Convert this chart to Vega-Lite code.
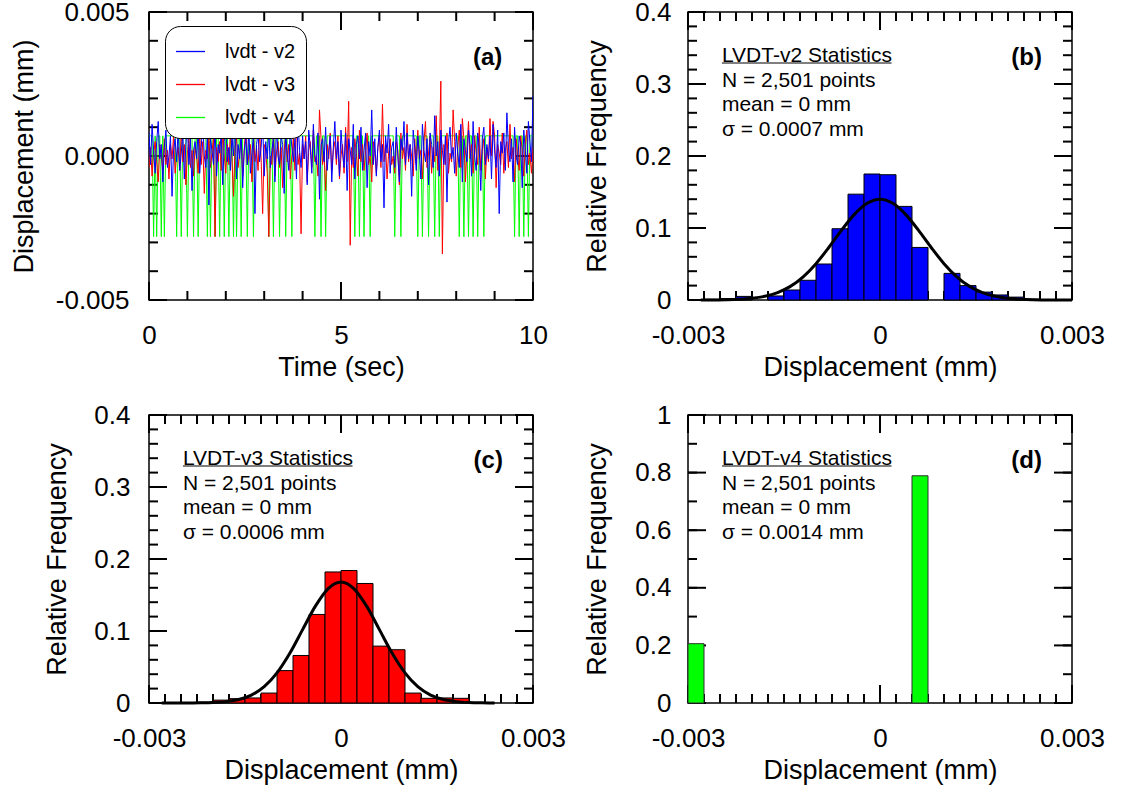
{
"$schema":"https://vega.github.io/schema/vega-lite/v6.json",
"autosize":"none",
"padding":{"left":149,"top":12,"right":973,"bottom":778},
"background":"white",
"config":{
 "font":"Liberation Sans",
 "view":{"stroke":"#000","strokeWidth":1.5},
 "axis":{"grid":false,"domain":false,"labelFont":"Liberation Sans","labelFontSize":26,"labelColor":"#000","titleFont":"Liberation Sans","titleFontSize":27,"titleFontWeight":"normal","titleColor":"#000","labelFlush":false,"labelOverlap":false,"labelBound":false},
 "rule":{"color":"#000","strokeWidth":2},
 "text":{"font":"Liberation Sans","color":"#000"}
},
"datasets":{
"xa":[{"v":0,"m":1},{"v":1,"m":0},{"v":2,"m":0},{"v":3,"m":0},{"v":4,"m":0},{"v":5,"m":1},{"v":6,"m":0},{"v":7,"m":0},{"v":8,"m":0},{"v":9,"m":0},{"v":10,"m":1}],
"ya":[{"v":-0.005,"m":1},{"v":-0.004,"m":0},{"v":-0.003,"m":0},{"v":-0.002,"m":0},{"v":-0.001,"m":0},{"v":0,"m":1},{"v":0.001,"m":0},{"v":0.002,"m":0},{"v":0.003,"m":0},{"v":0.004,"m":0},{"v":0.005,"m":1}],
"xh":[{"v":-0.003,"m":1},{"v":-0.00275,"m":0},{"v":-0.0025,"m":0},{"v":-0.00225,"m":0},{"v":-0.002,"m":0},{"v":-0.00175,"m":0},{"v":-0.0015,"m":0},{"v":-0.00125,"m":0},{"v":-0.001,"m":0},{"v":-0.00075,"m":0},{"v":-0.0005,"m":0},{"v":-0.00025,"m":0},{"v":0,"m":1},{"v":0.00025,"m":0},{"v":0.0005,"m":0},{"v":0.00075,"m":0},{"v":0.001,"m":0},{"v":0.00125,"m":0},{"v":0.0015,"m":0},{"v":0.00175,"m":0},{"v":0.002,"m":0},{"v":0.00225,"m":0},{"v":0.0025,"m":0},{"v":0.00275,"m":0},{"v":0.003,"m":1}],
"yh":[{"v":0,"m":1},{"v":0.02,"m":0},{"v":0.04,"m":0},{"v":0.06,"m":0},{"v":0.08,"m":0},{"v":0.1,"m":1},{"v":0.12,"m":0},{"v":0.14,"m":0},{"v":0.16,"m":0},{"v":0.18,"m":0},{"v":0.2,"m":1},{"v":0.22,"m":0},{"v":0.24,"m":0},{"v":0.26,"m":0},{"v":0.28,"m":0},{"v":0.3,"m":1},{"v":0.32,"m":0},{"v":0.34,"m":0},{"v":0.36,"m":0},{"v":0.38,"m":0},{"v":0.4,"m":1}],
"yd":[{"v":0,"m":1},{"v":0.1,"m":0},{"v":0.2,"m":1},{"v":0.3,"m":0},{"v":0.4,"m":1},{"v":0.5,"m":0},{"v":0.6,"m":1},{"v":0.7,"m":0},{"v":0.8,"m":1},{"v":0.9,"m":0},{"v":1,"m":1}],
"ts":[
{"t":0,"v2":0.0008,"v3":-0.0004,"v4":0.0007},
{"t":0.04,"v2":-0.0003,"v3":0.0003,"v4":0.0007},
{"t":0.08,"v2":0.0011,"v3":-0.0007,"v4":0.0007},
{"t":0.12,"v2":0.0002,"v3":0.0001,"v4":-0.0028},
{"t":0.16,"v2":-0.0006,"v3":0.0005,"v4":0.0007},
{"t":0.2,"v2":0.0005,"v3":-0.0002,"v4":-0.0028},
{"t":0.24,"v2":0.0012,"v3":-0.0009,"v4":0.0007},
{"t":0.28,"v2":-0.0001,"v3":0.0004,"v4":0.0007},
{"t":0.32,"v2":0.0004,"v3":0,"v4":-0.0028},
{"t":0.36,"v2":-0.0009,"v3":-0.0005,"v4":0.0007},
{"t":0.4,"v2":0.0003,"v3":0.0006,"v4":-0.0028},
{"t":0.44,"v2":0.0009,"v3":-0.0003,"v4":0.0007},
{"t":0.48,"v2":-0.0004,"v3":0.0002,"v4":0.0007},
{"t":0.52,"v2":0,"v3":-0.0008,"v4":0.0007},
{"t":0.56,"v2":0.0007,"v3":0.0004,"v4":0.0007},
{"t":0.6,"v2":-0.0014,"v3":-0.0001,"v4":0.0007},
{"t":0.64,"v2":0.0002,"v3":0.0007,"v4":0.0007},
{"t":0.68,"v2":0.0006,"v3":-0.0006,"v4":0.0007},
{"t":0.72,"v2":-0.0002,"v3":0,"v4":-0.0028},
{"t":0.76,"v2":0.001,"v3":0.0003,"v4":0.0007},
{"t":0.8,"v2":-0.0005,"v3":-0.0005,"v4":0.0007},
{"t":0.84,"v2":0.0001,"v3":0.0009,"v4":-0.0028},
{"t":0.88,"v2":0.0008,"v3":-0.0002,"v4":0.0007},
{"t":0.92,"v2":-0.0008,"v3":0.0004,"v4":0.0007},
{"t":0.96,"v2":0.0004,"v3":-0.001,"v4":0.0007},
{"t":1,"v2":0.0011,"v3":0.0001,"v4":-0.0028},
{"t":1.04,"v2":-0.0003,"v3":0.0006,"v4":0.0007},
{"t":1.08,"v2":0.0006,"v3":-0.0004,"v4":0.0007},
{"t":1.12,"v2":-0.0012,"v3":0.0002,"v4":0.0007},
{"t":1.16,"v2":0.0002,"v3":-0.0007,"v4":-0.0028},
{"t":1.2,"v2":0.0005,"v3":0.0003,"v4":0.0007},
{"t":1.24,"v2":-0.0001,"v3":0,"v4":0.0007},
{"t":1.28,"v2":0.0009,"v3":-0.0006,"v4":-0.0028},
{"t":1.32,"v2":-0.0006,"v3":0.0008,"v4":0.0007},
{"t":1.36,"v2":0.0003,"v3":-0.0003,"v4":0.0007},
{"t":1.4,"v2":0.0012,"v3":0.0005,"v4":0.0007},
{"t":1.44,"v2":0,"v3":-0.0013,"v4":0.0007},
{"t":1.48,"v2":-0.0004,"v3":0.0002,"v4":0.0007},
{"t":1.52,"v2":0.0007,"v3":-0.0001,"v4":-0.0028},
{"t":1.56,"v2":-0.0017,"v3":0.0006,"v4":0.0007},
{"t":1.6,"v2":0.0006,"v3":-0.0004,"v4":-0.0028},
{"t":1.64,"v2":0.0002,"v3":0.0001,"v4":0.0007},
{"t":1.68,"v2":-0.0003,"v3":0.0007,"v4":0.0007},
{"t":1.72,"v2":0.001,"v3":-0.0028,"v4":-0.0028},
{"t":1.76,"v2":-0.0007,"v3":0.0003,"v4":0.0007},
{"t":1.8,"v2":0.0004,"v3":-0.0002,"v4":0.0007},
{"t":1.84,"v2":0.0001,"v3":0.0005,"v4":-0.0028},
{"t":1.88,"v2":0.0008,"v3":-0.0005,"v4":0.0007},
{"t":1.92,"v2":-0.001,"v3":0.001,"v4":0.0007},
{"t":1.96,"v2":0.0005,"v3":0,"v4":-0.0028},
{"t":2,"v2":0.0011,"v3":-0.0006,"v4":0.0007},
{"t":2.04,"v2":-0.0002,"v3":0.0004,"v4":0.0007},
{"t":2.08,"v2":0.0003,"v3":-0.0003,"v4":-0.0028},
{"t":2.12,"v2":-0.0005,"v3":0.0008,"v4":0.0007},
{"t":2.16,"v2":0.0007,"v3":-0.0001,"v4":0.0007},
{"t":2.2,"v2":0,"v3":-0.0014,"v4":-0.0028},
{"t":2.24,"v2":0.0015,"v3":0.0003,"v4":0.0007},
{"t":2.28,"v2":-0.0008,"v3":0.0006,"v4":-0.0028},
{"t":2.32,"v2":0.0004,"v3":-0.0004,"v4":0.0007},
{"t":2.36,"v2":-0.0001,"v3":0.0001,"v4":0.0007},
{"t":2.4,"v2":0.0009,"v3":0.0005,"v4":-0.0028},
{"t":2.44,"v2":-0.0011,"v3":-0.0007,"v4":0.0007},
{"t":2.48,"v2":0.0002,"v3":0.0002,"v4":0.0007},
{"t":2.52,"v2":0.0006,"v3":0.0011,"v4":0.0007},
{"t":2.56,"v2":-0.0003,"v3":-0.0003,"v4":-0.0028},
{"t":2.6,"v2":0.001,"v3":0,"v4":0.0007},
{"t":2.64,"v2":-0.0006,"v3":0.0004,"v4":0.0007},
{"t":2.68,"v2":0.0001,"v3":-0.0009,"v4":0.0007},
{"t":2.72,"v2":0.0007,"v3":0.0007,"v4":-0.0028},
{"t":2.76,"v2":-0.002,"v3":-0.0002,"v4":0.0007},
{"t":2.8,"v2":0.0004,"v3":0.0003,"v4":0.0007},
{"t":2.84,"v2":0.0008,"v3":-0.0005,"v4":0.0007},
{"t":2.88,"v2":-0.0002,"v3":0.0009,"v4":0.0007},
{"t":2.92,"v2":0.0003,"v3":-0.0001,"v4":0.0007},
{"t":2.96,"v2":0.0012,"v3":-0.002,"v4":0.0007},
{"t":3,"v2":-0.0007,"v3":0.0004,"v4":0.0007},
{"t":3.04,"v2":0.0005,"v3":0.0002,"v4":0.0007},
{"t":3.08,"v2":-0.0001,"v3":-0.0006,"v4":0.0007},
{"t":3.12,"v2":0.0009,"v3":-0.0028,"v4":-0.0028},
{"t":3.16,"v2":-0.0004,"v3":0,"v4":0.0007},
{"t":3.2,"v2":0.0002,"v3":-0.0003,"v4":0.0007},
{"t":3.24,"v2":0.0006,"v3":0.0008,"v4":-0.0028},
{"t":3.28,"v2":-0.0009,"v3":-0.0007,"v4":0.0007},
{"t":3.32,"v2":0.0011,"v3":0.0001,"v4":0.0007},
{"t":3.36,"v2":0,"v3":0.0005,"v4":0.0007},
{"t":3.4,"v2":-0.0003,"v3":-0.0004,"v4":-0.0028},
{"t":3.44,"v2":0.0007,"v3":0.0003,"v4":0.0007},
{"t":3.48,"v2":0.0004,"v3":-0.0011,"v4":0.0007},
{"t":3.52,"v2":-0.0013,"v3":0.0002,"v4":0.0007},
{"t":3.56,"v2":0.0008,"v3":0.0007,"v4":-0.0028},
{"t":3.6,"v2":0.0001,"v3":-0.0002,"v4":0.0007},
{"t":3.64,"v2":-0.0005,"v3":0.0004,"v4":0.0007},
{"t":3.68,"v2":0.001,"v3":-0.0008,"v4":0.0007},
{"t":3.72,"v2":0.0003,"v3":0,"v4":-0.0028},
{"t":3.76,"v2":-0.0002,"v3":0.0006,"v4":0.0007},
{"t":3.8,"v2":0.0006,"v3":-0.0005,"v4":0.0007},
{"t":3.84,"v2":-0.0008,"v3":0.0013,"v4":0.0007},
{"t":3.88,"v2":0.0012,"v3":-0.0003,"v4":0.0007},
{"t":3.92,"v2":0.0002,"v3":0.0001,"v4":0.0007},
{"t":3.96,"v2":-0.0004,"v3":-0.0027,"v4":0.0007},
{"t":4,"v2":0.0007,"v3":0.0004,"v4":0.0007},
{"t":4.04,"v2":-0.0001,"v3":-0.0001,"v4":0.0007},
{"t":4.08,"v2":0.0005,"v3":0.0007,"v4":0.0007},
{"t":4.12,"v2":-0.001,"v3":-0.0009,"v4":0.0007},
{"t":4.16,"v2":0.0009,"v3":0.0002,"v4":0.0007},
{"t":4.2,"v2":0.0003,"v3":0.0005,"v4":0.0007},
{"t":4.24,"v2":-0.0006,"v3":-0.0004,"v4":0.0007},
{"t":4.28,"v2":0.0011,"v3":0.0009,"v4":0.0007},
{"t":4.32,"v2":0,"v3":-0.0002,"v4":-0.0028},
{"t":4.36,"v2":-0.0003,"v3":0,"v4":0.0007},
{"t":4.4,"v2":0.0008,"v3":-0.0007,"v4":0.0007},
{"t":4.44,"v2":-0.0015,"v3":0.0016,"v4":0.0007},
{"t":4.48,"v2":0.0004,"v3":0.0006,"v4":-0.0028},
{"t":4.52,"v2":0.0006,"v3":-0.0003,"v4":0.0007},
{"t":4.56,"v2":-0.0002,"v3":0.0001,"v4":0.0007},
{"t":4.6,"v2":0.001,"v3":-0.0012,"v4":-0.0028},
{"t":4.64,"v2":-0.0005,"v3":0.0004,"v4":0.0007},
{"t":4.68,"v2":0.0002,"v3":-0.0001,"v4":0.0007},
{"t":4.72,"v2":0.0007,"v3":0.0008,"v4":0.0007},
{"t":4.76,"v2":-0.0009,"v3":-0.0005,"v4":0.0007},
{"t":4.8,"v2":0.0003,"v3":0.0002,"v4":0.0007},
{"t":4.84,"v2":0.0012,"v3":0.0005,"v4":0.0007},
{"t":4.88,"v2":-0.0001,"v3":-0.0003,"v4":0.0007},
{"t":4.92,"v2":0.0005,"v3":0.0007,"v4":0.0007},
{"t":4.96,"v2":-0.0007,"v3":-0.0008,"v4":0.0007},
{"t":5,"v2":0.0009,"v3":0,"v4":0.0007},
{"t":5.04,"v2":0.0001,"v3":0.0004,"v4":0.0007},
{"t":5.08,"v2":-0.0004,"v3":-0.0006,"v4":0.0007},
{"t":5.12,"v2":0.0008,"v3":0.001,"v4":0.0007},
{"t":5.16,"v2":-0.0012,"v3":-0.0002,"v4":0.0007},
{"t":5.2,"v2":0.0006,"v3":0.0019,"v4":0.0007},
{"t":5.24,"v2":0.0002,"v3":-0.0031,"v4":0.0007},
{"t":5.28,"v2":-0.0003,"v3":0.0003,"v4":0.0007},
{"t":5.32,"v2":0.0011,"v3":-0.0004,"v4":0.0007},
{"t":5.36,"v2":-0.0008,"v3":0.0006,"v4":-0.0028},
{"t":5.4,"v2":0.0004,"v3":0.0001,"v4":0.0007},
{"t":5.44,"v2":0.0007,"v3":-0.0007,"v4":0.0007},
{"t":5.48,"v2":-0.0001,"v3":0.0009,"v4":-0.0028},
{"t":5.52,"v2":0.001,"v3":-0.0002,"v4":0.0007},
{"t":5.56,"v2":-0.0005,"v3":0.0004,"v4":0.0007},
{"t":5.6,"v2":0.0002,"v3":-0.0005,"v4":-0.0028},
{"t":5.64,"v2":0.0008,"v3":0.0002,"v4":0.0007},
{"t":5.68,"v2":-0.0011,"v3":0.0008,"v4":0.0007},
{"t":5.72,"v2":0.0005,"v3":-0.0003,"v4":0.0007},
{"t":5.76,"v2":0,"v3":0,"v4":-0.0028},
{"t":5.8,"v2":0.0016,"v3":-0.0009,"v4":0.0007},
{"t":5.84,"v2":-0.0003,"v3":0.0005,"v4":0.0007},
{"t":5.88,"v2":0.0006,"v3":0.0001,"v4":0.0007},
{"t":5.92,"v2":-0.0007,"v3":-0.0006,"v4":0.0007},
{"t":5.96,"v2":0.0003,"v3":0.0003,"v4":0.0007},
{"t":6,"v2":0.0009,"v3":0.0007,"v4":0.0007},
{"t":6.04,"v2":-0.0002,"v3":-0.0004,"v4":0.0007},
{"t":6.08,"v2":0.0004,"v3":0.0018,"v4":0.0007},
{"t":6.12,"v2":-0.0018,"v3":-0.0002,"v4":0.0007},
{"t":6.16,"v2":0.0007,"v3":0.0004,"v4":0.0007},
{"t":6.2,"v2":0.0001,"v3":-0.0008,"v4":0.0007},
{"t":6.24,"v2":0.0011,"v3":0.0001,"v4":0.0007},
{"t":6.28,"v2":-0.0006,"v3":0.0006,"v4":0.0007},
{"t":6.32,"v2":0.0003,"v3":-0.0003,"v4":0.0007},
{"t":6.36,"v2":0.0005,"v3":0,"v4":0.0007},
{"t":6.4,"v2":-0.0004,"v3":-0.0006,"v4":-0.0028},
{"t":6.44,"v2":0.001,"v3":0.0005,"v4":0.0007},
{"t":6.48,"v2":0,"v3":0.0002,"v4":0.0007},
{"t":6.52,"v2":-0.0009,"v3":-0.001,"v4":0.0007},
{"t":6.56,"v2":0.0006,"v3":0.0008,"v4":-0.0028},
{"t":6.6,"v2":0.0002,"v3":-0.0001,"v4":0.0007},
{"t":6.64,"v2":0.0012,"v3":0.0003,"v4":0.0007},
{"t":6.68,"v2":-0.0003,"v3":-0.0005,"v4":0.0007},
{"t":6.72,"v2":0.0008,"v3":0.0011,"v4":0.0007},
{"t":6.76,"v2":-0.0001,"v3":-0.0002,"v4":0.0007},
{"t":6.8,"v2":0.0004,"v3":0.0004,"v4":0.0007},
{"t":6.84,"v2":-0.0014,"v3":0,"v4":0.0007},
{"t":6.88,"v2":0.0009,"v3":-0.0007,"v4":0.0007},
{"t":6.92,"v2":0.0003,"v3":0.0006,"v4":0.0007},
{"t":6.96,"v2":-0.0005,"v3":-0.0003,"v4":0.0007},
{"t":7,"v2":0.0007,"v3":0.0009,"v4":-0.0028},
{"t":7.04,"v2":0.0001,"v3":-0.0001,"v4":0.0007},
{"t":7.08,"v2":-0.0008,"v3":0.0002,"v4":0.0007},
{"t":7.12,"v2":0.0011,"v3":-0.0008,"v4":-0.0028},
{"t":7.16,"v2":0.0002,"v3":0.0005,"v4":0.0007},
{"t":7.2,"v2":-0.0002,"v3":0.0012,"v4":0.0007},
{"t":7.24,"v2":0.0006,"v3":-0.0004,"v4":0.0007},
{"t":7.28,"v2":-0.001,"v3":0.0001,"v4":-0.0028},
{"t":7.32,"v2":0.0008,"v3":0.0007,"v4":0.0007},
{"t":7.36,"v2":0.0004,"v3":-0.0006,"v4":0.0007},
{"t":7.4,"v2":-0.0004,"v3":0.0003,"v4":0.0007},
{"t":7.44,"v2":0.0014,"v3":-0.0002,"v4":-0.0028},
{"t":7.48,"v2":0,"v3":0.0014,"v4":0.0007},
{"t":7.52,"v2":0.0005,"v3":-0.0005,"v4":0.0007},
{"t":7.56,"v2":-0.0007,"v3":0,"v4":-0.0028},
{"t":7.6,"v2":0.0009,"v3":0.0026,"v4":0.0007},
{"t":7.64,"v2":0.0002,"v3":-0.0034,"v4":0.0007},
{"t":7.68,"v2":-0.0003,"v3":0.0004,"v4":0.0007},
{"t":7.72,"v2":0.0007,"v3":-0.0003,"v4":0.0007},
{"t":7.76,"v2":-0.0016,"v3":0.0008,"v4":0.0007},
{"t":7.8,"v2":0.0005,"v3":-0.0006,"v4":0.0007},
{"t":7.84,"v2":0.001,"v3":0.0001,"v4":0.0007},
{"t":7.88,"v2":-0.0001,"v3":-0.0002,"v4":0.0007},
{"t":7.92,"v2":0.0003,"v3":0.0016,"v4":0.0007},
{"t":7.96,"v2":-0.0006,"v3":0.0005,"v4":0.0007},
{"t":8,"v2":0.0008,"v3":-0.0007,"v4":0.0007},
{"t":8.04,"v2":0.0001,"v3":0.0003,"v4":0.0007},
{"t":8.08,"v2":-0.0004,"v3":0.0009,"v4":-0.0028},
{"t":8.12,"v2":0.0011,"v3":-0.0004,"v4":0.0007},
{"t":8.16,"v2":-0.0009,"v3":0.0013,"v4":0.0007},
{"t":8.2,"v2":0.0006,"v3":0.0006,"v4":-0.0028},
{"t":8.24,"v2":0.0002,"v3":-0.0009,"v4":0.0007},
{"t":8.28,"v2":-0.0002,"v3":0.0002,"v4":0.0007},
{"t":8.32,"v2":0.0009,"v3":0.0012,"v4":-0.0028},
{"t":8.36,"v2":0.0004,"v3":-0.0001,"v4":0.0007},
{"t":8.4,"v2":-0.0007,"v3":0.0004,"v4":0.0007},
{"t":8.44,"v2":0.0012,"v3":-0.0006,"v4":-0.0028},
{"t":8.48,"v2":0,"v3":0.0007,"v4":0.0007},
{"t":8.52,"v2":-0.0005,"v3":0.0001,"v4":0.0007},
{"t":8.56,"v2":0.0008,"v3":-0.0003,"v4":-0.0028},
{"t":8.6,"v2":0.0003,"v3":0.001,"v4":0.0007},
{"t":8.64,"v2":-0.0012,"v3":-0.0005,"v4":0.0007},
{"t":8.68,"v2":0.0006,"v3":0.0002,"v4":0.0007},
{"t":8.72,"v2":0.001,"v3":0.0006,"v4":-0.0028},
{"t":8.76,"v2":-0.0003,"v3":-0.0008,"v4":0.0007},
{"t":8.8,"v2":0.0004,"v3":0.0003,"v4":0.0007},
{"t":8.84,"v2":-0.0001,"v3":-0.0002,"v4":0.0007},
{"t":8.88,"v2":0.0007,"v3":0.0013,"v4":0.0007},
{"t":8.92,"v2":-0.0008,"v3":0,"v4":0.0007},
{"t":8.96,"v2":0.0011,"v3":0.0012,"v4":0.0007},
{"t":9,"v2":0.0002,"v3":0.0007,"v4":0.0007},
{"t":9.04,"v2":-0.0004,"v3":-0.0011,"v4":0.0007},
{"t":9.08,"v2":0.0009,"v3":0.0004,"v4":0.0007},
{"t":9.12,"v2":-0.002,"v3":0.0001,"v4":0.0007},
{"t":9.16,"v2":0.0005,"v3":-0.0003,"v4":0.0007},
{"t":9.2,"v2":0.0001,"v3":0.0008,"v4":0.0007},
{"t":9.24,"v2":0.0008,"v3":-0.0006,"v4":0.0007},
{"t":9.28,"v2":-0.0005,"v3":0.0002,"v4":0.0007},
{"t":9.32,"v2":0.0015,"v3":0.0005,"v4":0.0007},
{"t":9.36,"v2":0.0003,"v3":-0.0004,"v4":0.0007},
{"t":9.4,"v2":-0.0002,"v3":0.0011,"v4":0.0007},
{"t":9.44,"v2":0.0006,"v3":-0.0001,"v4":0.0007},
{"t":9.48,"v2":-0.0009,"v3":0.0003,"v4":0.0007},
{"t":9.52,"v2":0.001,"v3":-0.0009,"v4":-0.0028},
{"t":9.56,"v2":0,"v3":0.0006,"v4":0.0007},
{"t":9.6,"v2":-0.0003,"v3":0,"v4":0.0007},
{"t":9.64,"v2":0.0007,"v3":-0.0005,"v4":-0.0028},
{"t":9.68,"v2":0.0004,"v3":0.0007,"v4":0.0007},
{"t":9.72,"v2":-0.0011,"v3":0.0002,"v4":0.0007},
{"t":9.76,"v2":0.0009,"v3":-0.0007,"v4":-0.0028},
{"t":9.8,"v2":0.0002,"v3":0.0004,"v4":0.0007},
{"t":9.84,"v2":-0.0006,"v3":0.0009,"v4":0.0007},
{"t":9.88,"v2":0.0012,"v3":-0.0003,"v4":-0.0028},
{"t":9.92,"v2":0.0005,"v3":0.0001,"v4":0.0007},
{"t":9.96,"v2":-0.0002,"v3":-0.0006,"v4":0.0007},
{"t":10,"v2":0.0021,"v3":0.0003,"v4":0.0007}
],
"hb":[{"lo":-0.00275,"hi":-0.0025,"f":0.001},{"lo":-0.0025,"hi":-0.00225,"f":0.002},{"lo":-0.00225,"hi":-0.002,"f":0.005},{"lo":-0.00175,"hi":-0.0015,"f":0.0056},{"lo":-0.0015,"hi":-0.00125,"f":0.0139},{"lo":-0.00125,"hi":-0.001,"f":0.0274},{"lo":-0.001,"hi":-0.00075,"f":0.05},{"lo":-0.00075,"hi":-0.0005,"f":0.099},{"lo":-0.0005,"hi":-0.00025,"f":0.147},{"lo":-0.00025,"hi":0,"f":0.175},{"lo":0,"hi":0.00025,"f":0.174},{"lo":0.00025,"hi":0.0005,"f":0.13},{"lo":0.0005,"hi":0.00075,"f":0.073},{"lo":0.001,"hi":0.00125,"f":0.037},{"lo":0.00125,"hi":0.0015,"f":0.02},{"lo":0.0015,"hi":0.00175,"f":0.011},{"lo":0.00175,"hi":0.002,"f":0.007},{"lo":0.002,"hi":0.00225,"f":0.004},{"lo":0.00225,"hi":0.0025,"f":0.001}],
"hc":[{"lo":-0.00225,"hi":-0.002,"f":0.001},{"lo":-0.002,"hi":-0.00175,"f":0.004},{"lo":-0.00175,"hi":-0.0015,"f":0.006},{"lo":-0.0015,"hi":-0.00125,"f":0.007},{"lo":-0.00125,"hi":-0.001,"f":0.0138},{"lo":-0.001,"hi":-0.00075,"f":0.045},{"lo":-0.00075,"hi":-0.0005,"f":0.066},{"lo":-0.0005,"hi":-0.00025,"f":0.123},{"lo":-0.00025,"hi":0,"f":0.182},{"lo":0,"hi":0.00025,"f":0.184},{"lo":0.00025,"hi":0.0005,"f":0.166},{"lo":0.0005,"hi":0.00075,"f":0.079},{"lo":0.00075,"hi":0.001,"f":0.074},{"lo":0.001,"hi":0.00125,"f":0.0138},{"lo":0.00125,"hi":0.0015,"f":0.0065},{"lo":0.0015,"hi":0.00175,"f":0.007},{"lo":0.00175,"hi":0.002,"f":0.0065}],
"hd":[{"lo":-0.003,"hi":-0.00275,"f":0.206},{"lo":0.0005,"hi":0.00075,"f":0.789}],
"cb":[{"x":-0.0028,"f":0.00005},{"x":-0.0026,"f":0.00014},{"x":-0.0024,"f":0.00039},{"x":-0.0022,"f":0.001},{"x":-0.002,"f":0.0024},{"x":-0.0018,"f":0.0051},{"x":-0.0016,"f":0.0103},{"x":-0.0014,"f":0.0189},{"x":-0.0012,"f":0.0322},{"x":-0.001,"f":0.0505},{"x":-0.0008,"f":0.0729},{"x":-0.0006,"f":0.097},{"x":-0.0004,"f":0.1189},{"x":-0.0002,"f":0.1344},{"x":0,"f":0.14},{"x":0.0002,"f":0.1344},{"x":0.0004,"f":0.1189},{"x":0.0006,"f":0.097},{"x":0.0008,"f":0.0729},{"x":0.001,"f":0.0505},{"x":0.0012,"f":0.0322},{"x":0.0014,"f":0.0189},{"x":0.0016,"f":0.0103},{"x":0.0018,"f":0.0051},{"x":0.002,"f":0.0024},{"x":0.0022,"f":0.001},{"x":0.0024,"f":0.00039},{"x":0.0026,"f":0.00014},{"x":0.0028,"f":0.00005},{"x":0.003,"f":0.00001}],
"cc":[{"x":-0.0028,"f":0},{"x":-0.0026,"f":0.00001},{"x":-0.0024,"f":0.00006},{"x":-0.0022,"f":0.0002},{"x":-0.002,"f":0.00065},{"x":-0.0018,"f":0.0019},{"x":-0.0016,"f":0.0048},{"x":-0.0014,"f":0.011},{"x":-0.0012,"f":0.0227},{"x":-0.001,"f":0.0419},{"x":-0.0008,"f":0.0691},{"x":-0.0006,"f":0.1019},{"x":-0.0004,"f":0.1345},{"x":-0.0002,"f":0.1589},{"x":0,"f":0.168},{"x":0.0002,"f":0.1589},{"x":0.0004,"f":0.1345},{"x":0.0006,"f":0.1019},{"x":0.0008,"f":0.0691},{"x":0.001,"f":0.0419},{"x":0.0012,"f":0.0227},{"x":0.0014,"f":0.011},{"x":0.0016,"f":0.0048},{"x":0.0018,"f":0.0019},{"x":0.002,"f":0.00065},{"x":0.0022,"f":0.0002},{"x":0.0024,"f":0.00006}]
},
"columns":2,
"spacing":{"row":115,"column":155},
"bounds":"flush",
"concat":[
{
 "width":384,"height":288,
 "resolve":{"axis":{"x":"independent","y":"independent"}},
 "layer":[
  {"data":{"name":"ts"},"mark":{"type":"point","opacity":0},"encoding":{
   "x":{"field":"t","type":"quantitative","scale":{"domain":[0,10],"nice":false,"zero":false},"axis":{"orient":"bottom","values":[0,5,10],"format":"d","ticks":false,"labelPadding":22,"labelFlush":false,"title":"Time (sec)","titlePadding":6}},
   "y":{"field":"v2","type":"quantitative","scale":{"domain":[-0.005,0.005],"nice":false,"zero":false},"axis":{"orient":"left","values":[-0.005,0,0.005],"ticks":false,"labelPadding":20,"title":"Displacement (mm)","titlePadding":17,"labelExpr":"(datum.value < 0 ? '-' : '') + format(abs(datum.value), '.3f')"}}}},
  {"data":{"name":"xa"},"mark":"rule","encoding":{"x":{"field":"v","type":"quantitative","scale":{"domain":[0,10],"nice":false,"zero":false},"axis":null},"y":{"datum":-0.005,"type":"quantitative","scale":{"domain":[-0.005,0.005],"nice":false,"zero":false},"axis":null},"y2":{"datum":-0.0046875}}},
  {"data":{"name":"xa"},"transform":[{"filter":"datum.m == 1"}],"mark":"rule","encoding":{"x":{"field":"v","type":"quantitative","scale":{"domain":[0,10],"nice":false,"zero":false},"axis":null},"y":{"datum":-0.005,"type":"quantitative","scale":{"domain":[-0.005,0.005],"nice":false,"zero":false},"axis":null},"y2":{"datum":-0.004375}}},
  {"data":{"name":"xa"},"mark":"rule","encoding":{"x":{"field":"v","type":"quantitative","scale":{"domain":[0,10],"nice":false,"zero":false},"axis":null},"y":{"datum":0.005,"type":"quantitative","scale":{"domain":[-0.005,0.005],"nice":false,"zero":false},"axis":null},"y2":{"datum":0.0046875}}},
  {"data":{"name":"xa"},"transform":[{"filter":"datum.m == 1"}],"mark":"rule","encoding":{"x":{"field":"v","type":"quantitative","scale":{"domain":[0,10],"nice":false,"zero":false},"axis":null},"y":{"datum":0.005,"type":"quantitative","scale":{"domain":[-0.005,0.005],"nice":false,"zero":false},"axis":null},"y2":{"datum":0.004375}}},
  {"data":{"name":"ya"},"mark":"rule","encoding":{"y":{"field":"v","type":"quantitative","scale":{"domain":[-0.005,0.005],"nice":false,"zero":false},"axis":null},"x":{"datum":0,"type":"quantitative","scale":{"domain":[0,10],"nice":false,"zero":false},"axis":null},"x2":{"datum":0.234375}}},
  {"data":{"name":"ya"},"transform":[{"filter":"datum.m == 1"}],"mark":"rule","encoding":{"y":{"field":"v","type":"quantitative","scale":{"domain":[-0.005,0.005],"nice":false,"zero":false},"axis":null},"x":{"datum":0,"type":"quantitative","scale":{"domain":[0,10],"nice":false,"zero":false},"axis":null},"x2":{"datum":0.46875}}},
  {"data":{"name":"ya"},"mark":"rule","encoding":{"y":{"field":"v","type":"quantitative","scale":{"domain":[-0.005,0.005],"nice":false,"zero":false},"axis":null},"x":{"datum":10,"type":"quantitative","scale":{"domain":[0,10],"nice":false,"zero":false},"axis":null},"x2":{"datum":9.765625}}},
  {"data":{"name":"ya"},"transform":[{"filter":"datum.m == 1"}],"mark":"rule","encoding":{"y":{"field":"v","type":"quantitative","scale":{"domain":[-0.005,0.005],"nice":false,"zero":false},"axis":null},"x":{"datum":10,"type":"quantitative","scale":{"domain":[0,10],"nice":false,"zero":false},"axis":null},"x2":{"datum":9.53125}}},
  {"data":{"name":"ts"},"mark":{"type":"line","strokeWidth":1,"clip":true},"encoding":{
   "x":{"field":"t","type":"quantitative","scale":{"domain":[0,10],"nice":false,"zero":false},"axis":null},
   "y":{"field":"v4","type":"quantitative","scale":{"domain":[-0.005,0.005],"nice":false,"zero":false},"axis":null},
   "color":{"datum":"v4","type":"nominal","scale":{"domain":["v2","v3","v4"],"range":["#0000ff","#ff0000","#00ff00"]},"legend":{"orient":"none","legendX":16,"legendY":14,"title":null,"labelExpr":"'lvdt - ' + datum.label","labelFontSize":20,"labelFont":"Liberation Sans","labelColor":"#000","symbolType":"stroke","symbolSize":841,"symbolStrokeWidth":1.3,"labelOffset":19,"rowPadding":7,"padding":10,"strokeColor":"#000","fillColor":"#fff","cornerRadius":15}}}},
  {"data":{"name":"ts"},"mark":{"type":"line","strokeWidth":1,"clip":true},"encoding":{
   "x":{"field":"t","type":"quantitative","scale":{"domain":[0,10],"nice":false,"zero":false},"axis":null},
   "y":{"field":"v3","type":"quantitative","scale":{"domain":[-0.005,0.005],"nice":false,"zero":false},"axis":null},
   "color":{"datum":"v3","type":"nominal","scale":{"domain":["v2","v3","v4"],"range":["#0000ff","#ff0000","#00ff00"]},"legend":{"orient":"none","legendX":16,"legendY":14,"title":null,"labelExpr":"'lvdt - ' + datum.label","labelFontSize":20,"labelFont":"Liberation Sans","labelColor":"#000","symbolType":"stroke","symbolSize":841,"symbolStrokeWidth":1.3,"labelOffset":19,"rowPadding":7,"padding":10,"strokeColor":"#000","fillColor":"#fff","cornerRadius":15}}}},
  {"data":{"name":"ts"},"mark":{"type":"line","strokeWidth":1,"clip":true},"encoding":{
   "x":{"field":"t","type":"quantitative","scale":{"domain":[0,10],"nice":false,"zero":false},"axis":null},
   "y":{"field":"v2","type":"quantitative","scale":{"domain":[-0.005,0.005],"nice":false,"zero":false},"axis":null},
   "color":{"datum":"v2","type":"nominal","scale":{"domain":["v2","v3","v4"],"range":["#0000ff","#ff0000","#00ff00"]},"legend":{"orient":"none","legendX":16,"legendY":14,"title":null,"labelExpr":"'lvdt - ' + datum.label","labelFontSize":20,"labelFont":"Liberation Sans","labelColor":"#000","symbolType":"stroke","symbolSize":841,"symbolStrokeWidth":1.3,"labelOffset":19,"rowPadding":7,"padding":10,"strokeColor":"#000","fillColor":"#fff","cornerRadius":15}}}},
  {"data":{"values":[{"tag":"(a)"}]},"mark":{"type":"text","align":"right","baseline":"alphabetic","fontSize":24,"fontWeight":"bold"},"encoding":{
   "x":{"datum":9.2,"type":"quantitative","scale":{"domain":[0,10],"nice":false,"zero":false},"axis":null},
   "y":{"datum":0.00316,"type":"quantitative","scale":{"domain":[-0.005,0.005],"nice":false,"zero":false},"axis":null},
   "text":{"field":"tag"}}}
 ]
},
{
 "width":384,"height":288,
 "resolve":{"axis":{"x":"independent","y":"independent"}},
 "layer":[
  {"data":{"name":"hb"},"mark":{"type":"point","opacity":0},"encoding":{
   "x":{"field":"lo","type":"quantitative","scale":{"domain":[-0.003,0.003],"nice":false,"zero":false},"axis":{"orient":"bottom","values":[-0.003,0,0.003],"ticks":false,"labelPadding":22,"labelFlush":false,"title":"Displacement (mm)","titlePadding":6,"labelExpr":"datum.value == 0 ? '0' : (datum.value < 0 ? '-' : '') + format(abs(datum.value), '.3f')"}},
   "y":{"field":"f","type":"quantitative","scale":{"domain":[0,0.4],"nice":false},"axis":{"orient":"left","values":[0,0.1,0.2,0.3,0.4],"format":"~g","ticks":false,"labelPadding":17,"title":"Relative Frequency","titlePadding":23}}}},
  {"data":{"name":"xh"},"mark":"rule","encoding":{"x":{"field":"v","type":"quantitative","scale":{"domain":[-0.003,0.003],"nice":false,"zero":false},"axis":null},"y":{"datum":0,"type":"quantitative","scale":{"domain":[0,0.4],"nice":false},"axis":null},"y2":{"datum":0.0125}}},
  {"data":{"name":"xh"},"transform":[{"filter":"datum.m == 1"}],"mark":"rule","encoding":{"x":{"field":"v","type":"quantitative","scale":{"domain":[-0.003,0.003],"nice":false,"zero":false},"axis":null},"y":{"datum":0,"type":"quantitative","scale":{"domain":[0,0.4],"nice":false},"axis":null},"y2":{"datum":0.025}}},
  {"data":{"name":"xh"},"mark":"rule","encoding":{"x":{"field":"v","type":"quantitative","scale":{"domain":[-0.003,0.003],"nice":false,"zero":false},"axis":null},"y":{"datum":0.4,"type":"quantitative","scale":{"domain":[0,0.4],"nice":false},"axis":null},"y2":{"datum":0.3875}}},
  {"data":{"name":"xh"},"transform":[{"filter":"datum.m == 1"}],"mark":"rule","encoding":{"x":{"field":"v","type":"quantitative","scale":{"domain":[-0.003,0.003],"nice":false,"zero":false},"axis":null},"y":{"datum":0.4,"type":"quantitative","scale":{"domain":[0,0.4],"nice":false},"axis":null},"y2":{"datum":0.375}}},
  {"data":{"name":"yh"},"mark":"rule","encoding":{"y":{"field":"v","type":"quantitative","scale":{"domain":[0,0.4],"nice":false},"axis":null},"x":{"datum":-0.003,"type":"quantitative","scale":{"domain":[-0.003,0.003],"nice":false,"zero":false},"axis":null},"x2":{"datum":-0.002859375}}},
  {"data":{"name":"yh"},"transform":[{"filter":"datum.m == 1"}],"mark":"rule","encoding":{"y":{"field":"v","type":"quantitative","scale":{"domain":[0,0.4],"nice":false},"axis":null},"x":{"datum":-0.003,"type":"quantitative","scale":{"domain":[-0.003,0.003],"nice":false,"zero":false},"axis":null},"x2":{"datum":-0.00271875}}},
  {"data":{"name":"yh"},"mark":"rule","encoding":{"y":{"field":"v","type":"quantitative","scale":{"domain":[0,0.4],"nice":false},"axis":null},"x":{"datum":0.003,"type":"quantitative","scale":{"domain":[-0.003,0.003],"nice":false,"zero":false},"axis":null},"x2":{"datum":0.002859375}}},
  {"data":{"name":"yh"},"transform":[{"filter":"datum.m == 1"}],"mark":"rule","encoding":{"y":{"field":"v","type":"quantitative","scale":{"domain":[0,0.4],"nice":false},"axis":null},"x":{"datum":0.003,"type":"quantitative","scale":{"domain":[-0.003,0.003],"nice":false,"zero":false},"axis":null},"x2":{"datum":0.00271875}}},
  {"data":{"name":"hb"},"mark":{"type":"bar","fill":"#0000ff","stroke":"#000","strokeWidth":1},"encoding":{
   "x":{"field":"lo","type":"quantitative","scale":{"domain":[-0.003,0.003],"nice":false,"zero":false},"axis":null},
   "x2":{"field":"hi"},
   "y":{"field":"f","type":"quantitative","scale":{"domain":[0,0.4],"nice":false},"axis":null},
   "y2":{"datum":0}}},
  {"data":{"name":"cb"},"mark":{"type":"line","color":"#000","strokeWidth":3,"interpolate":"monotone"},"encoding":{
   "x":{"field":"x","type":"quantitative","scale":{"domain":[-0.003,0.003],"nice":false,"zero":false},"axis":null},
   "y":{"field":"f","type":"quantitative","scale":{"domain":[0,0.4],"nice":false},"axis":null}}},
  {"data":{"values":[{"note":["LVDT-v2 Statistics","N = 2,501 points","mean = 0 mm","σ = 0.0007 mm"]}]},"mark":{"type":"text","align":"left","baseline":"alphabetic","fontSize":21,"lineHeight":24.8},"encoding":{
   "x":{"datum":-0.00247,"type":"quantitative","scale":{"domain":[-0.003,0.003],"nice":false,"zero":false},"axis":null},
   "y":{"datum":0.3308,"type":"quantitative","scale":{"domain":[0,0.4],"nice":false},"axis":null},
   "text":{"field":"note"}}},
  {"data":{"values":[{"note":"LVDT-v2 Statistics"}]},"mark":{"type":"rule","color":"#000","strokeWidth":1.2},"encoding":{
   "x":{"datum":-0.00247,"type":"quantitative","scale":{"domain":[-0.003,0.003],"nice":false,"zero":false},"axis":null},
   "x2":{"datum":0.00018},
   "y":{"datum":0.3292,"type":"quantitative","scale":{"domain":[0,0.4],"nice":false},"axis":null}}},
  {"data":{"values":[{"tag":"(b)"}]},"mark":{"type":"text","align":"right","baseline":"alphabetic","fontSize":24,"fontWeight":"bold"},"encoding":{
   "x":{"datum":0.00253,"type":"quantitative","scale":{"domain":[-0.003,0.003],"nice":false,"zero":false},"axis":null},
   "y":{"datum":0.3264,"type":"quantitative","scale":{"domain":[0,0.4],"nice":false},"axis":null},
   "text":{"field":"tag"}}}
 ]
},
{
 "width":384,"height":288,
 "resolve":{"axis":{"x":"independent","y":"independent"}},
 "layer":[
  {"data":{"name":"hc"},"mark":{"type":"point","opacity":0},"encoding":{
   "x":{"field":"lo","type":"quantitative","scale":{"domain":[-0.003,0.003],"nice":false,"zero":false},"axis":{"orient":"bottom","values":[-0.003,0,0.003],"ticks":false,"labelPadding":22,"labelFlush":false,"title":"Displacement (mm)","titlePadding":6,"labelExpr":"datum.value == 0 ? '0' : (datum.value < 0 ? '-' : '') + format(abs(datum.value), '.3f')"}},
   "y":{"field":"f","type":"quantitative","scale":{"domain":[0,0.4],"nice":false},"axis":{"orient":"left","values":[0,0.1,0.2,0.3,0.4],"format":"~g","ticks":false,"labelPadding":19,"title":"Relative Frequency","titlePadding":22}}}},
  {"data":{"name":"xh"},"mark":"rule","encoding":{"x":{"field":"v","type":"quantitative","scale":{"domain":[-0.003,0.003],"nice":false,"zero":false},"axis":null},"y":{"datum":0,"type":"quantitative","scale":{"domain":[0,0.4],"nice":false},"axis":null},"y2":{"datum":0.0125}}},
  {"data":{"name":"xh"},"transform":[{"filter":"datum.m == 1"}],"mark":"rule","encoding":{"x":{"field":"v","type":"quantitative","scale":{"domain":[-0.003,0.003],"nice":false,"zero":false},"axis":null},"y":{"datum":0,"type":"quantitative","scale":{"domain":[0,0.4],"nice":false},"axis":null},"y2":{"datum":0.025}}},
  {"data":{"name":"xh"},"mark":"rule","encoding":{"x":{"field":"v","type":"quantitative","scale":{"domain":[-0.003,0.003],"nice":false,"zero":false},"axis":null},"y":{"datum":0.4,"type":"quantitative","scale":{"domain":[0,0.4],"nice":false},"axis":null},"y2":{"datum":0.3875}}},
  {"data":{"name":"xh"},"transform":[{"filter":"datum.m == 1"}],"mark":"rule","encoding":{"x":{"field":"v","type":"quantitative","scale":{"domain":[-0.003,0.003],"nice":false,"zero":false},"axis":null},"y":{"datum":0.4,"type":"quantitative","scale":{"domain":[0,0.4],"nice":false},"axis":null},"y2":{"datum":0.375}}},
  {"data":{"name":"yh"},"mark":"rule","encoding":{"y":{"field":"v","type":"quantitative","scale":{"domain":[0,0.4],"nice":false},"axis":null},"x":{"datum":-0.003,"type":"quantitative","scale":{"domain":[-0.003,0.003],"nice":false,"zero":false},"axis":null},"x2":{"datum":-0.002859375}}},
  {"data":{"name":"yh"},"transform":[{"filter":"datum.m == 1"}],"mark":"rule","encoding":{"y":{"field":"v","type":"quantitative","scale":{"domain":[0,0.4],"nice":false},"axis":null},"x":{"datum":-0.003,"type":"quantitative","scale":{"domain":[-0.003,0.003],"nice":false,"zero":false},"axis":null},"x2":{"datum":-0.00271875}}},
  {"data":{"name":"yh"},"mark":"rule","encoding":{"y":{"field":"v","type":"quantitative","scale":{"domain":[0,0.4],"nice":false},"axis":null},"x":{"datum":0.003,"type":"quantitative","scale":{"domain":[-0.003,0.003],"nice":false,"zero":false},"axis":null},"x2":{"datum":0.002859375}}},
  {"data":{"name":"yh"},"transform":[{"filter":"datum.m == 1"}],"mark":"rule","encoding":{"y":{"field":"v","type":"quantitative","scale":{"domain":[0,0.4],"nice":false},"axis":null},"x":{"datum":0.003,"type":"quantitative","scale":{"domain":[-0.003,0.003],"nice":false,"zero":false},"axis":null},"x2":{"datum":0.00271875}}},
  {"data":{"name":"hc"},"mark":{"type":"bar","fill":"#ff0000","stroke":"#000","strokeWidth":1},"encoding":{
   "x":{"field":"lo","type":"quantitative","scale":{"domain":[-0.003,0.003],"nice":false,"zero":false},"axis":null},
   "x2":{"field":"hi"},
   "y":{"field":"f","type":"quantitative","scale":{"domain":[0,0.4],"nice":false},"axis":null},
   "y2":{"datum":0}}},
  {"data":{"name":"cc"},"mark":{"type":"line","color":"#000","strokeWidth":3,"interpolate":"monotone"},"encoding":{
   "x":{"field":"x","type":"quantitative","scale":{"domain":[-0.003,0.003],"nice":false,"zero":false},"axis":null},
   "y":{"field":"f","type":"quantitative","scale":{"domain":[0,0.4],"nice":false},"axis":null}}},
  {"data":{"values":[{"note":["LVDT-v3 Statistics","N = 2,501 points","mean = 0 mm","σ = 0.0006 mm"]}]},"mark":{"type":"text","align":"left","baseline":"alphabetic","fontSize":21,"lineHeight":24.8},"encoding":{
   "x":{"datum":-0.00247,"type":"quantitative","scale":{"domain":[-0.003,0.003],"nice":false,"zero":false},"axis":null},
   "y":{"datum":0.3308,"type":"quantitative","scale":{"domain":[0,0.4],"nice":false},"axis":null},
   "text":{"field":"note"}}},
  {"data":{"values":[{"note":"LVDT-v3 Statistics"}]},"mark":{"type":"rule","color":"#000","strokeWidth":1.2},"encoding":{
   "x":{"datum":-0.00247,"type":"quantitative","scale":{"domain":[-0.003,0.003],"nice":false,"zero":false},"axis":null},
   "x2":{"datum":0.00018},
   "y":{"datum":0.3292,"type":"quantitative","scale":{"domain":[0,0.4],"nice":false},"axis":null}}},
  {"data":{"values":[{"tag":"(c)"}]},"mark":{"type":"text","align":"right","baseline":"alphabetic","fontSize":24,"fontWeight":"bold"},"encoding":{
   "x":{"datum":0.00253,"type":"quantitative","scale":{"domain":[-0.003,0.003],"nice":false,"zero":false},"axis":null},
   "y":{"datum":0.3264,"type":"quantitative","scale":{"domain":[0,0.4],"nice":false},"axis":null},
   "text":{"field":"tag"}}}
 ]
},
{
 "width":384,"height":288,
 "resolve":{"axis":{"x":"independent","y":"independent"}},
 "layer":[
  {"data":{"name":"hd"},"mark":{"type":"point","opacity":0},"encoding":{
   "x":{"field":"lo","type":"quantitative","scale":{"domain":[-0.003,0.003],"nice":false,"zero":false},"axis":{"orient":"bottom","values":[-0.003,0,0.003],"ticks":false,"labelPadding":22,"labelFlush":false,"title":"Displacement (mm)","titlePadding":6,"labelExpr":"datum.value == 0 ? '0' : (datum.value < 0 ? '-' : '') + format(abs(datum.value), '.3f')"}},
   "y":{"field":"f","type":"quantitative","scale":{"domain":[0,1],"nice":false},"axis":{"orient":"left","values":[0,0.2,0.4,0.6,0.8,1],"format":"~g","ticks":false,"labelPadding":17,"title":"Relative Frequency","titlePadding":23}}}},
  {"data":{"name":"xh"},"mark":"rule","encoding":{"x":{"field":"v","type":"quantitative","scale":{"domain":[-0.003,0.003],"nice":false,"zero":false},"axis":null},"y":{"datum":0,"type":"quantitative","scale":{"domain":[0,1],"nice":false},"axis":null},"y2":{"datum":0.03125}}},
  {"data":{"name":"xh"},"transform":[{"filter":"datum.m == 1"}],"mark":"rule","encoding":{"x":{"field":"v","type":"quantitative","scale":{"domain":[-0.003,0.003],"nice":false,"zero":false},"axis":null},"y":{"datum":0,"type":"quantitative","scale":{"domain":[0,1],"nice":false},"axis":null},"y2":{"datum":0.0625}}},
  {"data":{"name":"xh"},"mark":"rule","encoding":{"x":{"field":"v","type":"quantitative","scale":{"domain":[-0.003,0.003],"nice":false,"zero":false},"axis":null},"y":{"datum":1,"type":"quantitative","scale":{"domain":[0,1],"nice":false},"axis":null},"y2":{"datum":0.96875}}},
  {"data":{"name":"xh"},"transform":[{"filter":"datum.m == 1"}],"mark":"rule","encoding":{"x":{"field":"v","type":"quantitative","scale":{"domain":[-0.003,0.003],"nice":false,"zero":false},"axis":null},"y":{"datum":1,"type":"quantitative","scale":{"domain":[0,1],"nice":false},"axis":null},"y2":{"datum":0.9375}}},
  {"data":{"name":"yd"},"mark":"rule","encoding":{"y":{"field":"v","type":"quantitative","scale":{"domain":[0,1],"nice":false},"axis":null},"x":{"datum":-0.003,"type":"quantitative","scale":{"domain":[-0.003,0.003],"nice":false,"zero":false},"axis":null},"x2":{"datum":-0.002859375}}},
  {"data":{"name":"yd"},"transform":[{"filter":"datum.m == 1"}],"mark":"rule","encoding":{"y":{"field":"v","type":"quantitative","scale":{"domain":[0,1],"nice":false},"axis":null},"x":{"datum":-0.003,"type":"quantitative","scale":{"domain":[-0.003,0.003],"nice":false,"zero":false},"axis":null},"x2":{"datum":-0.00271875}}},
  {"data":{"name":"yd"},"mark":"rule","encoding":{"y":{"field":"v","type":"quantitative","scale":{"domain":[0,1],"nice":false},"axis":null},"x":{"datum":0.003,"type":"quantitative","scale":{"domain":[-0.003,0.003],"nice":false,"zero":false},"axis":null},"x2":{"datum":0.002859375}}},
  {"data":{"name":"yd"},"transform":[{"filter":"datum.m == 1"}],"mark":"rule","encoding":{"y":{"field":"v","type":"quantitative","scale":{"domain":[0,1],"nice":false},"axis":null},"x":{"datum":0.003,"type":"quantitative","scale":{"domain":[-0.003,0.003],"nice":false,"zero":false},"axis":null},"x2":{"datum":0.00271875}}},
  {"data":{"name":"hd"},"mark":{"type":"bar","fill":"#00ff00","stroke":"#333","strokeWidth":1},"encoding":{
   "x":{"field":"lo","type":"quantitative","scale":{"domain":[-0.003,0.003],"nice":false,"zero":false},"axis":null},
   "x2":{"field":"hi"},
   "y":{"field":"f","type":"quantitative","scale":{"domain":[0,1],"nice":false},"axis":null},
   "y2":{"datum":0}}},
  {"data":{"values":[{"note":["LVDT-v4 Statistics","N = 2,501 points","mean = 0 mm","σ = 0.0014 mm"]}]},"mark":{"type":"text","align":"left","baseline":"alphabetic","fontSize":21,"lineHeight":24.8},"encoding":{
   "x":{"datum":-0.00247,"type":"quantitative","scale":{"domain":[-0.003,0.003],"nice":false,"zero":false},"axis":null},
   "y":{"datum":0.8271,"type":"quantitative","scale":{"domain":[0,1],"nice":false},"axis":null},
   "text":{"field":"note"}}},
  {"data":{"values":[{"note":"LVDT-v4 Statistics"}]},"mark":{"type":"rule","color":"#000","strokeWidth":1.2},"encoding":{
   "x":{"datum":-0.00247,"type":"quantitative","scale":{"domain":[-0.003,0.003],"nice":false,"zero":false},"axis":null},
   "x2":{"datum":0.00018},
   "y":{"datum":0.8229,"type":"quantitative","scale":{"domain":[0,1],"nice":false},"axis":null}}},
  {"data":{"values":[{"tag":"(d)"}]},"mark":{"type":"text","align":"right","baseline":"alphabetic","fontSize":24,"fontWeight":"bold"},"encoding":{
   "x":{"datum":0.00253,"type":"quantitative","scale":{"domain":[-0.003,0.003],"nice":false,"zero":false},"axis":null},
   "y":{"datum":0.816,"type":"quantitative","scale":{"domain":[0,1],"nice":false},"axis":null},
   "text":{"field":"tag"}}}
 ]
}
]
}
